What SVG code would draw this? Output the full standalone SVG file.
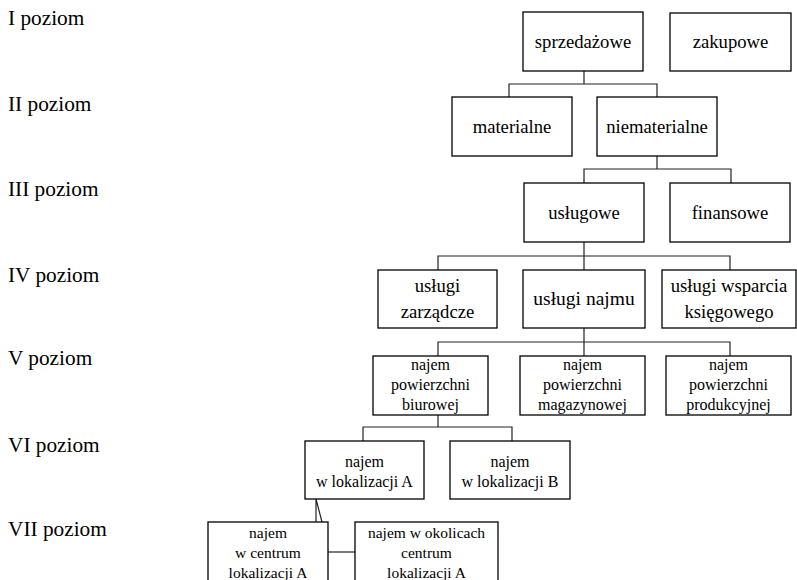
<svg xmlns="http://www.w3.org/2000/svg" width="797" height="580" viewBox="0 0 797 580">
<style>
  text { font-family: "Liberation Serif", "Times New Roman", serif; fill: #000; }
  .lvl { font-size: 21.3px; }
  .box rect { fill: #fff; stroke: #000; stroke-width: 1.3; }
  .t1 { font-size: 18.67px; text-anchor: middle; }
  .t2 { font-size: 16px; text-anchor: middle; }
  .t3 { font-size: 16px; text-anchor: middle; }
  .t4 { font-size: 15.5px; text-anchor: middle; }
  .conn { fill: none; stroke: #222; stroke-width: 1.2; }
</style>
<rect width="797" height="580" fill="#fff"/>
<g id="levels">
  <text class="lvl" x="8" y="25">I poziom</text>
  <text class="lvl" x="8" y="111">II poziom</text>
  <text class="lvl" x="8" y="196">III poziom</text>
  <text class="lvl" x="8" y="282">IV poziom</text>
  <text class="lvl" x="8" y="365">V poziom</text>
  <text class="lvl" x="8" y="452">VI poziom</text>
  <text class="lvl" x="8" y="536">VII poziom</text>
</g>
<g id="connectors" class="conn">
  <path d="M584 71 V84 M509 97 V84 H657 V97"/>
  <path d="M657 156 V169 M584 183 V169 H731 V183"/>
  <path d="M584 242 V270 M438 270 V256 H730 V270"/>
  <path d="M584 328 V356 M438 356 V342 H730 V356"/>
  <path d="M438 415 V427 M363 441 V427 H512 V441"/>
  <path d="M316 499 V522 M316 499 L322 522"/>
  <path d="M328 552 H355"/>
</g>
<g id="n-sprzedazowe" class="box"><rect x="523" y="12" width="120" height="59"/><text class="t1" x="583" y="48">sprzedażowe</text></g>
<g id="n-zakupowe" class="box"><rect x="670" y="13" width="121" height="58"/><text class="t1" x="730.5" y="48">zakupowe</text></g>
<g id="n-materialne" class="box"><rect x="452" y="97" width="120" height="59"/><text class="t1" x="512" y="133">materialne</text></g>
<g id="n-niematerialne" class="box"><rect x="597" y="97" width="120" height="59"/><text class="t1" x="657" y="133">niematerialne</text></g>
<g id="n-uslugowe" class="box"><rect x="524" y="183" width="120" height="59"/><text class="t1" x="584" y="219">usługowe</text></g>
<g id="n-finansowe" class="box"><rect x="670" y="183" width="120" height="59"/><text class="t1" x="730" y="219">finansowe</text></g>
<g id="n-zarzadcze" class="box"><rect x="378" y="270" width="119" height="58"/><text class="t1" x="437.5" y="292">usługi</text><text class="t1" x="437.5" y="318">zarządcze</text></g>
<g id="n-najmu" class="box"><rect x="523" y="270" width="122" height="58"/><text class="t1" x="584" y="305" style="font-size:19.5px">usługi najmu</text></g>
<g id="n-wsparcia" class="box"><rect x="662" y="270" width="134" height="58"/><text class="t1" x="729" y="292">usługi wsparcia</text><text class="t1" x="729" y="318">księgowego</text></g>
<g id="n-biurowej" class="box"><rect x="373" y="356" width="115" height="59"/><text class="t2" x="430.5" y="370">najem</text><text class="t2" x="430.5" y="390">powierzchni</text><text class="t2" x="430.5" y="410">biurowej</text></g>
<g id="n-magazynowej" class="box"><rect x="520" y="356" width="125" height="59"/><text class="t2" x="582.5" y="370">najem</text><text class="t2" x="582.5" y="390">powierzchni</text><text class="t2" x="582.5" y="410">magazynowej</text></g>
<g id="n-produkcyjnej" class="box"><rect x="666" y="356" width="125" height="59"/><text class="t2" x="728.5" y="370">najem</text><text class="t2" x="728.5" y="390">powierzchni</text><text class="t2" x="728.5" y="410">produkcyjnej</text></g>
<g id="n-lokA" class="box"><rect x="305" y="441" width="119" height="58"/><text class="t3" x="364.5" y="467">najem</text><text class="t3" x="364.5" y="487">w lokalizacji A</text></g>
<g id="n-lokB" class="box"><rect x="450" y="441" width="120" height="58"/><text class="t3" x="510" y="467">najem</text><text class="t3" x="510" y="487">w lokalizacji B</text></g>
<g id="n-centrum" class="box"><rect x="208" y="522" width="120" height="70"/><text class="t4" x="268" y="538">najem</text><text class="t4" x="268" y="558">w centrum</text><text class="t4" x="268" y="578">lokalizacji A</text></g>
<g id="n-okolice" class="box"><rect x="355" y="522" width="143" height="70"/><text class="t4" x="426.5" y="538">najem w okolicach</text><text class="t4" x="426.5" y="558">centrum</text><text class="t4" x="426.5" y="578">lokalizacji A</text></g>
</svg>
